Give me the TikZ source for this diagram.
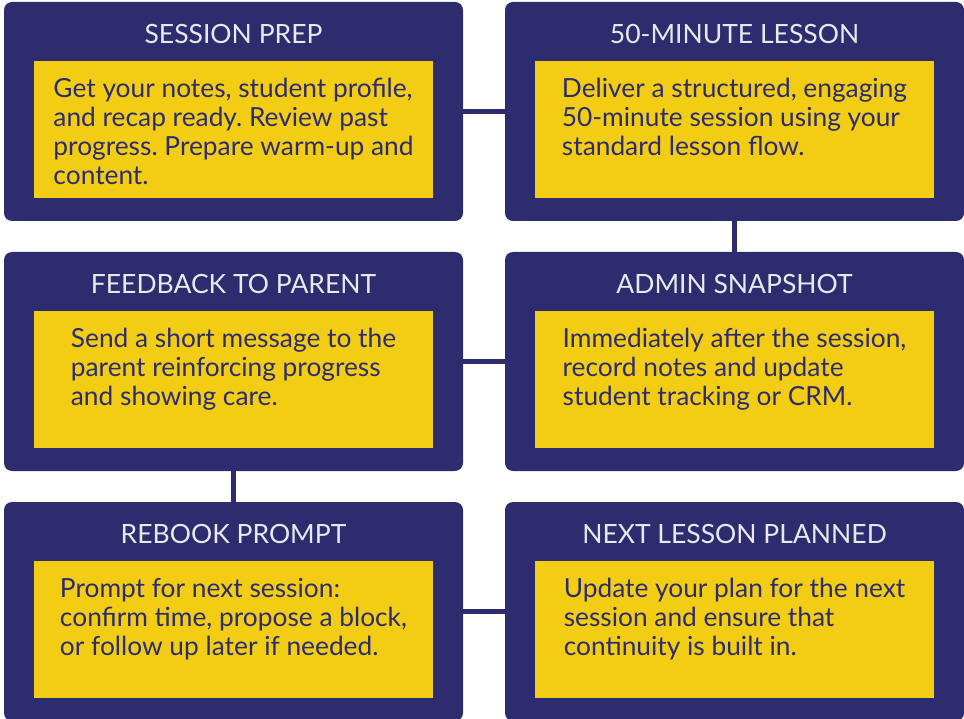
\documentclass[tikz,border=0pt]{standalone}
\usepackage{fontspec}
\setmainfont{Lato}
\usetikzlibrary{positioning}
\definecolor{navy}{HTML}{2D2C6E}
\definecolor{mustard}{HTML}{F2CD14}
\definecolor{titlegrey}{HTML}{E8E8F0}
\frenchspacing

\begin{document}
\begin{tikzpicture}[x=1pt, y=-1pt,
    stage/.style={fill=navy, rounded corners=8pt, minimum width=459pt, minimum height=219pt, inner sep=0pt},
    heading/.style={text=titlegrey, font=\fontsize{26.5}{30}\selectfont},
    panel/.style={fill=mustard, minimum width=399pt, minimum height=137pt, inner sep=0pt},
    blurb/.style={text=navy, align=left, font=\fontsize{26.3}{29}\selectfont, inner sep=0pt, anchor=north},
    link/.style={navy, line width=5pt}]
  \useasboundingbox (0,0) rectangle (964,719);
  \clip (0,0) rectangle (964,719);

  % outer boxes
  \node[stage] (prep)     at (233.5,111.5) {};
  \node[stage] (lesson)   at (734.5,111.5) {};
  \node[stage] (feedback) at (233.5,361.5) {};
  \node[stage] (admin)    at (734.5,361.5) {};
  \node[stage] (rebook)   at (233.5,611.5) {};
  \node[stage] (planned)  at (734.5,611.5) {};

  % links between the steps
  \draw[link] (prep.east) -- (lesson.west);
  \draw[link] (lesson.south) -- (admin.north);
  \draw[link] (admin.west) -- (feedback.east);
  \draw[link] (feedback.south) -- (rebook.north);
  \draw[link] (rebook.east) -- (planned.west);

  % titles
  \node[heading] (prepT)     at ([yshift=77.5pt]prep.center)     {SESSION PREP};
  \node[heading] (lessonT)   at ([yshift=77.5pt]lesson.center)   {50-MINUTE LESSON};
  \node[heading] (feedbackT) at ([yshift=77.5pt]feedback.center) {FEEDBACK TO PARENT};
  \node[heading] (adminT)    at ([yshift=77.5pt]admin.center)    {ADMIN SNAPSHOT};
  \node[heading] (rebookT)   at ([yshift=77.5pt]rebook.center)   {REBOOK PROMPT};
  \node[heading] (plannedT)  at ([yshift=77.5pt]planned.center)  {NEXT LESSON PLANNED};

  % yellow panels
  \node[panel] (prepP)     at ([yshift=-18pt]prep.center)     {};
  \node[panel] (lessonP)   at ([yshift=-18pt]lesson.center)   {};
  \node[panel] (feedbackP) at ([yshift=-18pt]feedback.center) {};
  \node[panel] (adminP)    at ([yshift=-18pt]admin.center)    {};
  \node[panel] (rebookP)   at ([yshift=-18pt]rebook.center)   {};
  \node[panel] (plannedP)  at ([yshift=-18pt]planned.center)  {};

  % texts
  \node[blurb] (prepX) at ([yshift=-17pt]prepP.north)
    {Get your notes, student profile,\\and recap ready. Review past\\progress. Prepare warm-up and\\content.};
  \node[blurb] (lessonX) at ([yshift=-17pt]lessonP.north)
    {Deliver a structured, engaging\\50-minute session using your\\standard lesson flow.};
  \node[blurb] (feedbackX) at ([yshift=-17pt]feedbackP.north)
    {Send a short message to the\\parent reinforcing progress\\and showing care.};
  \node[blurb] (adminX) at ([yshift=-17pt]adminP.north)
    {Immediately after the session,\\record notes and update\\student tracking or CRM.};
  \node[blurb] (rebookX) at ([yshift=-17pt]rebookP.north)
    {Prompt for next session:\\confirm time, propose a block,\\or follow up later if needed.};
  \node[blurb] (plannedX) at ([yshift=-17pt]plannedP.north)
    {Update your plan for the next\\session and ensure that\\continuity is built in.};
\end{tikzpicture}
\end{document}
